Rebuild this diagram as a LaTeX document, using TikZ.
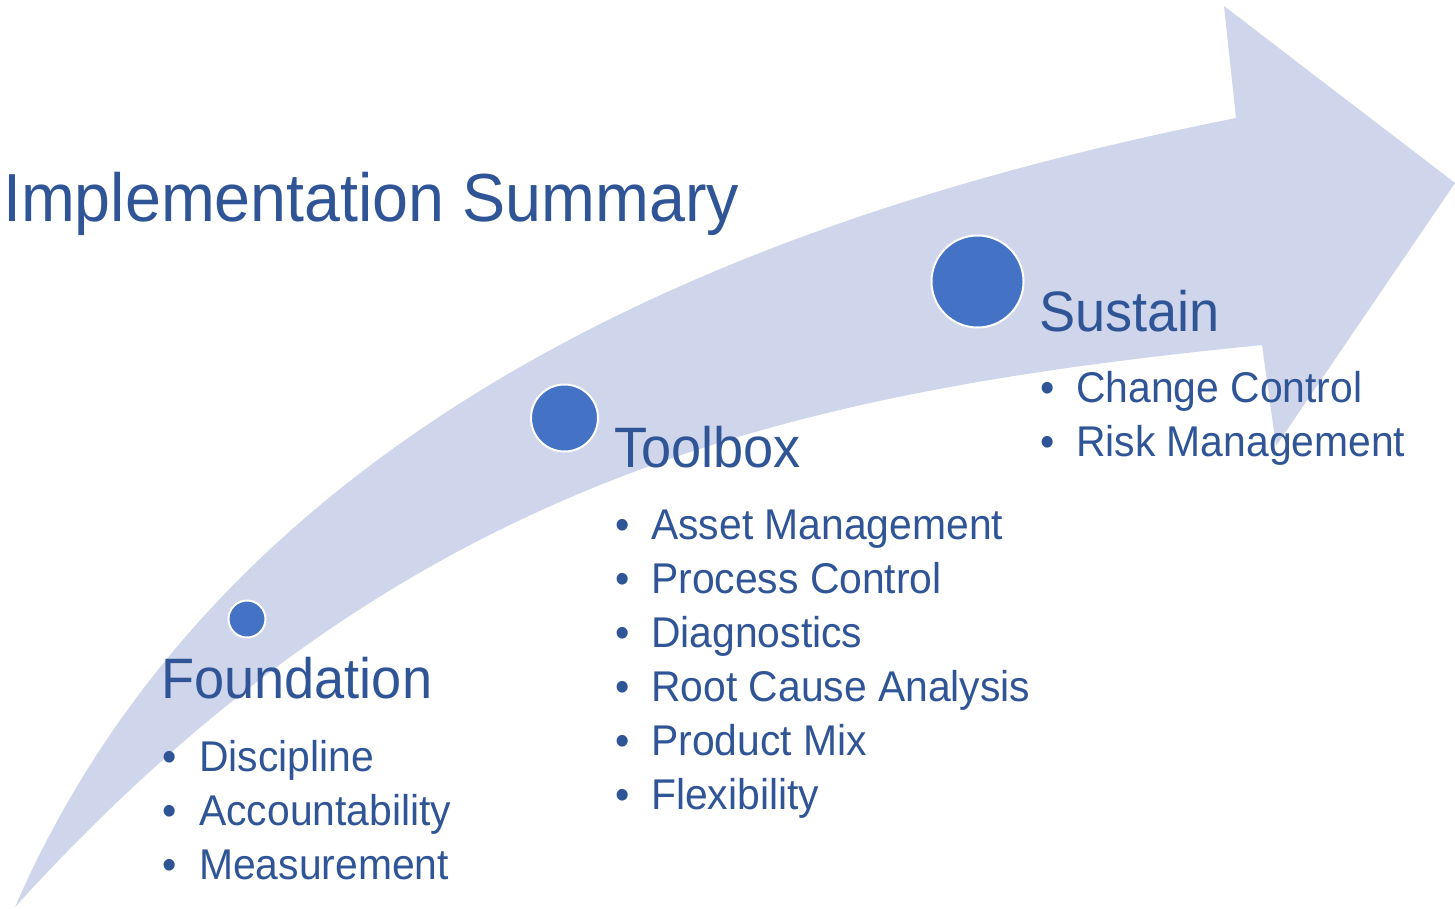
\documentclass[tikz,border=0pt]{standalone}
\usepackage{fontspec}
\setmainfont{Liberation Sans}[FakeStretch=0.95]
\definecolor{arrowfill}{HTML}{CFD5EA}
\definecolor{txtblue}{HTML}{2F5597}
\definecolor{dotblue}{HTML}{4472C4}
\begin{document}
\begin{tikzpicture}[x=1pt,y=-1pt,
  titletext/.style={text=txtblue, inner sep=0, anchor=base west, font=\fontsize{68}{80}\selectfont},
  headtext/.style={text=txtblue, inner sep=0, anchor=base west, font=\fontsize{57}{66}\selectfont},
  itemtext/.style={text=txtblue, inner sep=0, anchor=base west, font=\fontsize{43}{50}\selectfont},
  bulletmark/.style={text=txtblue, inner sep=0, anchor=base, font=\fontsize{43}{50}\selectfont},
  stage/.style={circle, fill=dotblue, draw=white, line width=2pt, inner sep=0}
]
\useasboundingbox (0,0) rectangle (1455,908);
% curved arrow
\fill[arrowfill]
  (15,907) .. controls (250,366.5) and (861,193) .. (1236,118)
  -- (1224,6) -- (1455,183) -- (1276,446) -- (1262,345)
  .. controls (782,393) and (405,478) .. (15,907)
  -- cycle;

\node[titletext] (title) at (3,221) {Implementation Summary};

\node[stage, minimum size=37pt] (c1) at (247,619) {};
\node[stage, minimum size=67pt] (c2) at (564.5,418) {};
\node[stage, minimum size=92pt] (c3) at (977.5,281.5) {};

\node[headtext] (h1) at (161,698) {Foundation};
\node[headtext] (h2) at (614,467) {Toolbox};
\node[headtext] (h3) at (1039,331) {Sustain};

% Foundation items
\node[bulletmark] (f1b) at (170,771) {•};
\node[itemtext] (f1) at (199,771) {Discipline};
\node[bulletmark] (f2b) at (170,825) {•};
\node[itemtext] (f2) at (199,825) {Accountability};
\node[bulletmark] (f3b) at (170,879) {•};
\node[itemtext] (f3) at (199,879) {Measurement};

% Toolbox items
\node[bulletmark] (t1b) at (623,539) {•};
\node[itemtext] (t1) at (651,539) {Asset Management};
\node[bulletmark] (t2b) at (623,593) {•};
\node[itemtext] (t2) at (651,593) {Process Control};
\node[bulletmark] (t3b) at (623,647) {•};
\node[itemtext] (t3) at (651,647) {Diagnostics};
\node[bulletmark] (t4b) at (623,701) {•};
\node[itemtext] (t4) at (651,701) {Root Cause Analysis};
\node[bulletmark] (t5b) at (623,755) {•};
\node[itemtext] (t5) at (651,755) {Product Mix};
\node[bulletmark] (t6b) at (623,809) {•};
\node[itemtext] (t6) at (651,809) {Flexibility};

% Sustain items
\node[bulletmark] (s1b) at (1048,402) {•};
\node[itemtext] (s1) at (1076,402) {Change Control};
\node[bulletmark] (s2b) at (1048,456) {•};
\node[itemtext] (s2) at (1076,456) {Risk Management};
\end{tikzpicture}
\end{document}
